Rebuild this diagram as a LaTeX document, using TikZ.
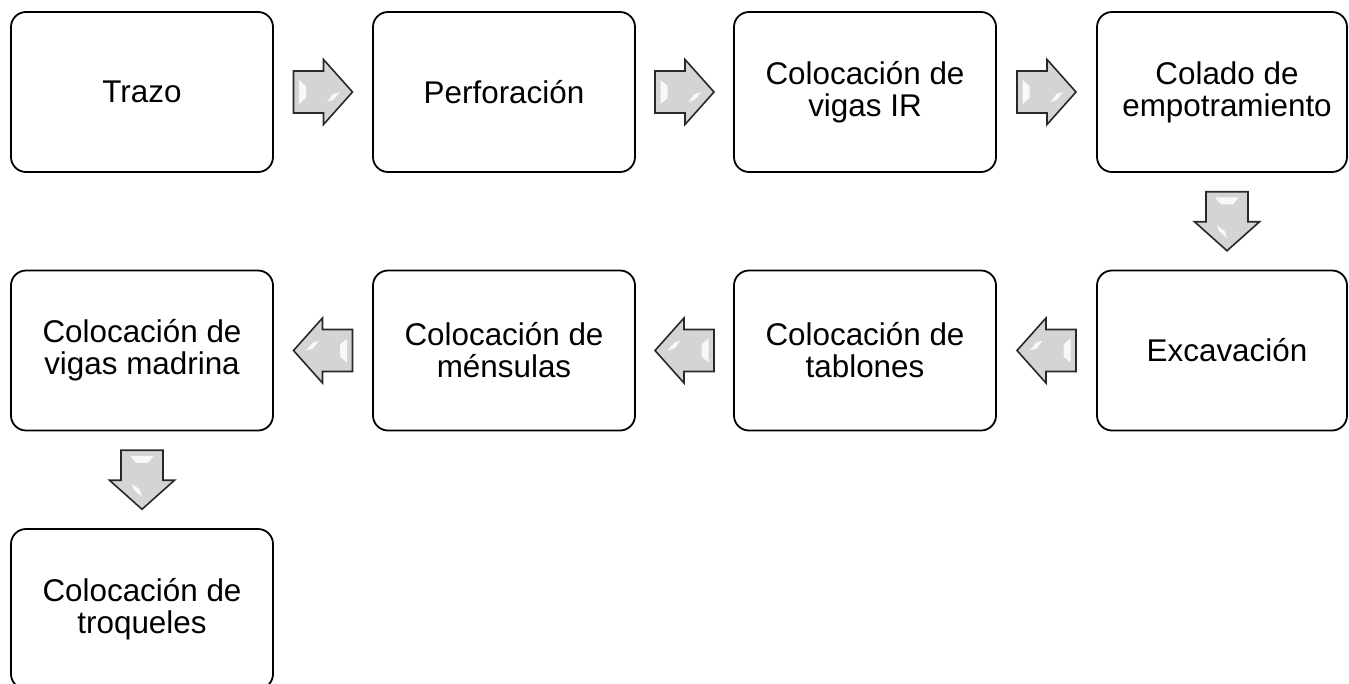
\documentclass[tikz,border=0pt]{standalone}
\usepackage{fontspec}
\setmainfont{Liberation Sans}
\usetikzlibrary{calc}
\definecolor{arrowfill}{RGB}{212,212,212}
\definecolor{arrowline}{RGB}{40,40,40}
\tikzset{
  stepbox/.style={draw=black, line width=1.8pt, rounded corners=15pt, minimum width=262pt, minimum height=160pt, align=center, inner sep=0pt, font=\fontsize{31.4}{32}\selectfont},
  blockarrow/.pic={
    \filldraw[fill=arrowfill, draw=arrowline, line width=1.6pt, line join=miter]
      (-29.5,-21) -- (0.5,-21) -- (0.5,-32.5) -- (29.5,0) -- (0.5,32.5) -- (0.5,21) -- (-29.5,21) -- cycle;
    \fill[white, opacity=0.85] (-24,-12) -- (-17,-6) -- (-17,6) -- (-24,12) -- cycle;
    \fill[white, opacity=0.85] (17,0) -- (10,8) -- (4,10) -- (10,2) -- cycle;
  }
}
\begin{document}
\begin{tikzpicture}[x=1pt, y=-1pt]
\useasboundingbox (0,0) rectangle (1349,683);
\clip (0,0) rectangle (1349,683);
\node[stepbox] (b1) at (142,92) {Trazo};
\node[stepbox] (b2) at (504,92) {Perforación};
\node[stepbox] (b3) at (865,92) {Colocación de\\vigas IR};
\node[stepbox, minimum width=250pt] (b4) at (1222,92) {\hspace*{10pt}Colado de\\\hspace*{10pt}empotramiento};
\node[stepbox, minimum width=250pt] (b5) at (1222,350.5) {\hspace*{10pt}Excavación};
\node[stepbox] (b6) at (865,350.5) {Colocación de\\tablones};
\node[stepbox] (b7) at (504,350.5) {Colocación de\\ménsulas};
\node[stepbox] (b8) at (142,350.5) {Colocación de\\vigas madrina};
\node[stepbox] (b9) at (142,609) {Colocación de\\troqueles};
\pic at ($(b1.east)!0.5!(b2.west)$) {blockarrow};
\pic at ($(b2.east)!0.5!(b3.west)$) {blockarrow};
\pic at ($(b3.east)!0.5!(b4.west)$) {blockarrow};
\pic[rotate=-90] at ($(b4.south)!0.5!(b5.north)+(5,0)$) {blockarrow};
\pic[rotate=180] at ($(b5.west)!0.5!(b6.east)$) {blockarrow};
\pic[rotate=180] at ($(b6.west)!0.5!(b7.east)$) {blockarrow};
\pic[rotate=180] at ($(b7.west)!0.5!(b8.east)$) {blockarrow};
\pic[rotate=-90] at ($(b8.south)!0.5!(b9.north)$) {blockarrow};
\end{tikzpicture}
\end{document}
